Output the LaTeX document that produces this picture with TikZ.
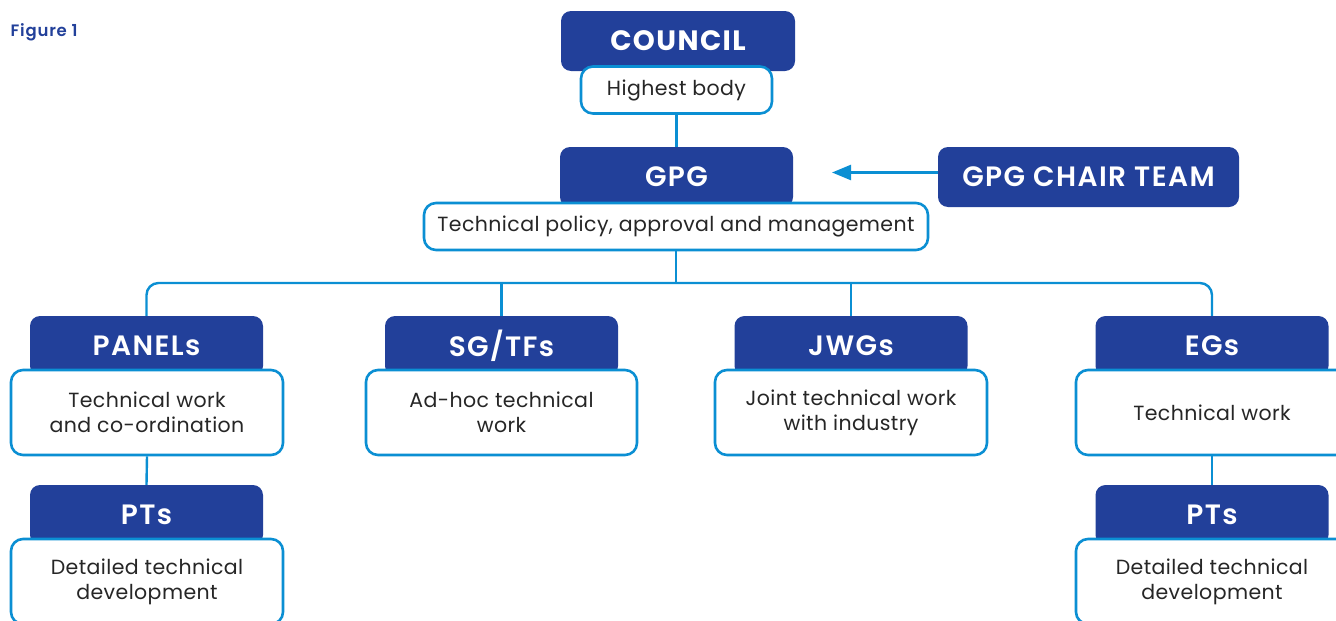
\documentclass[tikz,border=0pt]{standalone}
\usepackage{fontspec}
\setmainfont{Poppins}
\newfontfamily\semib{Poppins SemiBold}[LetterSpace=5]
\newfontfamily\boldwide{Poppins}[LetterSpace=5]
\newfontfamily\bodyf{Poppins}[LetterSpace=2]
\usetikzlibrary{arrows.meta}
\definecolor{navy}{HTML}{22409A}
\definecolor{lblue}{HTML}{0B8FD3}
\definecolor{txt}{HTML}{262626}
\begin{document}
\begin{tikzpicture}[x=1pt,y=-1pt,
  head/.style={fill=navy, rounded corners=10pt, minimum width=233pt, minimum height=60pt, text=white, font=\semib\fontsize{28}{30}\selectfont, inner sep=0pt},
  desc/.style={draw=lblue, line width=2.6pt, fill=white, rounded corners=12pt, text=txt, font=\bodyf\fontsize{20.5}{25}\selectfont, align=center, inner sep=0pt, minimum width=272pt, minimum height=85pt},
  link/.style={draw=lblue, line width=2.4pt}]
\useasboundingbox (0,0) rectangle (1336,621);
\node[anchor=west, text=navy, font=\semib\fontsize{16.5}{18}\selectfont] (fig) at (7,32) {Figure 1};

\node[head, minimum width=234pt, font=\boldwide\fontsize{28}{30}\selectfont\bfseries] (council) at (678,41) {COUNCIL};
\node[desc, minimum width=191pt, minimum height=47pt] (hb) at (676.5,90) {Highest body};

\node[head] (gpg) at (676.5,177) {GPG};
\node[head, minimum width=301pt] (chair) at (1088.5,177) {GPG CHAIR TEAM};
\node[desc, minimum width=504pt, minimum height=47pt] (tp) at (676,226.5) {Technical policy, approval and management};

\node[head] (panels) at (146.5,346) {PANELs};
\node[desc] (pw) at (147,412.5) {Technical work\\and co-ordination};
\node[head] (pts1) at (146.5,515) {PTs};
\node[desc] (pd1) at (147,581.5) {Detailed technical\\development};

\node[head] (sg) at (501.5,346) {SG/TFs};
\node[desc, minimum width=271pt] (sgw) at (501.5,412.5) {Ad-hoc technical\\work};

\node[head] (jwg) at (851,346) {JWGs};
\node[desc] (jw) at (851,412.5) {Joint technical work\\with industry};

\node[head] (egs) at (1212,346) {EGs};
\node[desc] (ew) at (1212,412.5) {Technical work};
\node[head] (pts2) at (1212,515) {PTs};
\node[desc] (pd2) at (1212,581.5) {Detailed technical\\development};

\coordinate (bus) at (676,283);
\coordinate (tip) at (832,172.5);

\draw[link] (hb.south) -- (gpg.north);
\draw[link] (tp.south) -- (bus);
\draw[link, rounded corners=12pt] (panels.north) |- (bus) -| (egs.north);
\draw[link] (sg.north) -- (sg.north |- bus);
\draw[link] (jwg.north) -- (jwg.north |- bus);
\draw[link] (pw.south) -- (pts1.north);
\draw[link] (ew.south) -- (pts2.north);
\draw[link, -{Triangle[length=19pt,width=15pt]}] (chair.west |- tip) -- (tip);
\end{tikzpicture}
\end{document}
